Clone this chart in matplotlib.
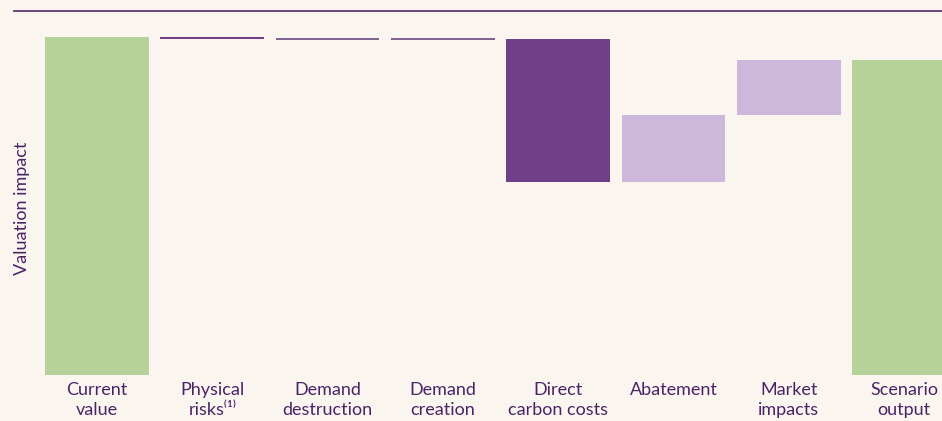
import matplotlib
matplotlib.use("Agg")
import matplotlib.pyplot as plt
from matplotlib.lines import Line2D

categories = ["Current\nvalue", "Physical\nrisks\u207d\u00b9\u207e", "Demand\ndestruction",
              "Demand\ncreation", "Direct\ncarbon costs", "Abatement", "Market\nimpacts",
              "Scenario\noutput"]
# steps: first and last are totals, the rest are changes
changes = [100.0, -0.6, 0.0, 0.0, -42.3, 19.8, 16.3]
total_end = 93.2

BG = "#faf6ef"
GREEN = "#b6d298"
DARK = "#703f8a"
LIGHT = "#cdb7da"
TEXT = "#4a2366"

plt.rcParams['font.family'] = ['Lato', 'DejaVu Sans']

fig = plt.figure(figsize=(9.42, 4.21), dpi=100, facecolor=BG)
W, H = 942, 421
left, right, top, bottom = 40, 942, 11, 375
ax = fig.add_axes([left / W, (H - bottom) / H, (right - left) / W, (bottom - top) / H])
ax.set_facecolor(BG)

x = list(range(len(categories)))
running = 0.0
for i in range(len(categories)):
    if i == 0:
        ax.bar(i, changes[0], width=0.9, color=GREEN)
        running = changes[0]
    elif i == len(categories) - 1:
        ax.bar(i, total_end, width=0.9, color=GREEN)
    else:
        d = changes[i]
        col = DARK if d <= 0 else LIGHT
        if d == 0:
            ax.bar(i, 0.0, bottom=running + 0.15, width=0.9, color=col,
                   edgecolor="#5e3a78", linewidth=1.1)
        else:
            ax.bar(i, d, bottom=running, width=0.9, color=col)
        running += d

px_per_unit = (375 - 37) / 100.0
ax.set_ylim(0, (bottom - top) / px_per_unit)
spacing = 115.3
ax.set_xlim((left - 97) / spacing, (right - 97) / spacing)

ax.set_xticks(x)
ax.set_xticklabels(categories, fontsize=13, color=TEXT, linespacing=1.3)
ax.tick_params(axis='x', length=0, pad=5)
ax.set_yticks([])
for s in ax.spines.values():
    s.set_visible(False)

fig.text(22 / W, (H - 208) / H, "Valuation impact", rotation=90, ha='center',
         va='center', fontsize=13, color=TEXT)

fig.add_artist(Line2D([14 / W, 1.0], [(H - 11) / H, (H - 11) / H],
                      color="#5e3a78", linewidth=1.3, transform=fig.transFigure))

fig.savefig("out.png", dpi=100, facecolor=BG)
